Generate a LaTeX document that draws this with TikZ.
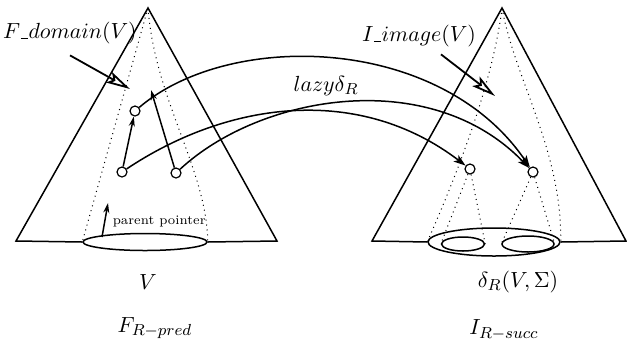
\documentclass[tikz,border=0pt]{standalone}
\usepackage{amsmath,amssymb}
\usepackage{tikz}
\usetikzlibrary{arrows.meta,shapes.geometric}
\newcommand{\usc}{\kern0.3pt\rule[-0.4pt]{3.5pt}{0.45pt}\kern0.3pt}

\begin{document}
\begin{tikzpicture}[
  x=0.5pt, y=-0.5pt,
  font=\fontsize{10.95pt}{13pt}\selectfont,
  line width=0.75pt,
  vertex/.style={circle, draw, inner sep=0pt, minimum size=5pt, line width=0.6pt},
  set/.style={ellipse, draw, inner sep=0pt},
  cone/.style={dotted, line width=0.5pt},
  ptr/.style={-{Stealth[length=5pt,width=3pt]}},
  lazy/.style={-{Stealth[length=6pt,width=4pt,inset=1.5pt]}},
  callout/.style={-{Stealth[open,length=12pt,width=6pt,inset=2.5pt]}, line width=0.9pt}
]
  \useasboundingbox (0,0) rectangle (627,339);

  \coordinate (ltop) at (148,8);
  \coordinate (lbl) at (16,241);
  \coordinate (lbr) at (277,241);
  \node[set, minimum width=62pt, minimum height=8.5pt] (vset) at (145,242) {};
  \draw (vset.west) -- (lbl) -- (ltop) -- (lbr) -- (vset.east);
  \draw[cone] (ltop) -- (vset.west);
  \draw[cone] (ltop) .. controls (155,100) and (207,170) .. (vset.east);

  \coordinate (rtop) at (502,8);
  \coordinate (rbl) at (372,241);
  \coordinate (rbr) at (626,241);
  \node[set, minimum width=66pt, minimum height=14pt] (img) at (494,242) {};
  \node[set, minimum width=21.5pt, minimum height=7pt] (imga) at (463,244) {};
  \node[set, minimum width=26pt, minimum height=8pt] (imgb) at (528,244) {};
  \draw (img.west) -- (rbl) -- (rtop) -- (rbr) -- (img.east);
  \draw[cone] (rtop) .. controls (492,90) and (450,190) .. (img.west);
  \draw[cone] (rtop) .. controls (515,80) and (562,150) .. (img.east);

  \node[vertex] (n1) at (135,111) {};
  \node[vertex] (n2) at (122,172) {};
  \node[vertex] (n3) at (176,173) {};
  \node[vertex] (m1) at (470,169) {};
  \node[vertex] (m2) at (533,172) {};
  \draw[cone] (m1) -- (imga.west);
  \draw[cone] (m1) -- (imga.east);
  \draw[cone] (m2) -- (imgb.west);
  \draw[cone] (m2) -- (imgb.east);

  \coordinate (up) at (151,90);
  \draw[ptr] (n2) -- (n1);
  \draw[ptr] (n3) -- (up);
  \coordinate (pp) at (102,237);
  \coordinate (pphead) at (108,203);
  \draw[ptr] (pp) -- (pphead);
  \node[font=\fontsize{6.5pt}{8pt}\selectfont, anchor=west, inner sep=0pt] (pplbl) at (112,221) {parent pointer};

  \draw[lazy] (n1) .. controls (230,30) and (440,35) .. (m2);
  \draw[lazy] (n2) .. controls (230,100) and (360,85) .. (m1);
  \draw[lazy] (n3) .. controls (260,95) and (430,65) .. (m2);
  \node (lazylbl) at (326,86) {$lazy\delta_R$};

  \node (fdom) at (70,33) {$F\usc domain(V)$};
  \coordinate (fdomtip) at (130,89);
  \draw[callout] ([shift={(0pt,-2pt)}]fdom.south) -- (fdomtip);
  \node (iimg) at (419,36) {$I\usc image(V)$};
  \coordinate (iimgtip) at (495,96);
  \draw[callout] ([xshift=11pt]iimg.south) -- (iimgtip);

  \node (vlbl) at (148,282) {$V$};
  \node (dlbl) at (518,282) {$\delta_R(V,\Sigma)$};
  \node (flbl) at (155,328) {$F_{R-pred}$};
  \node (ilbl) at (504,330) {$I_{R-succ}$};
\end{tikzpicture}
\end{document}
